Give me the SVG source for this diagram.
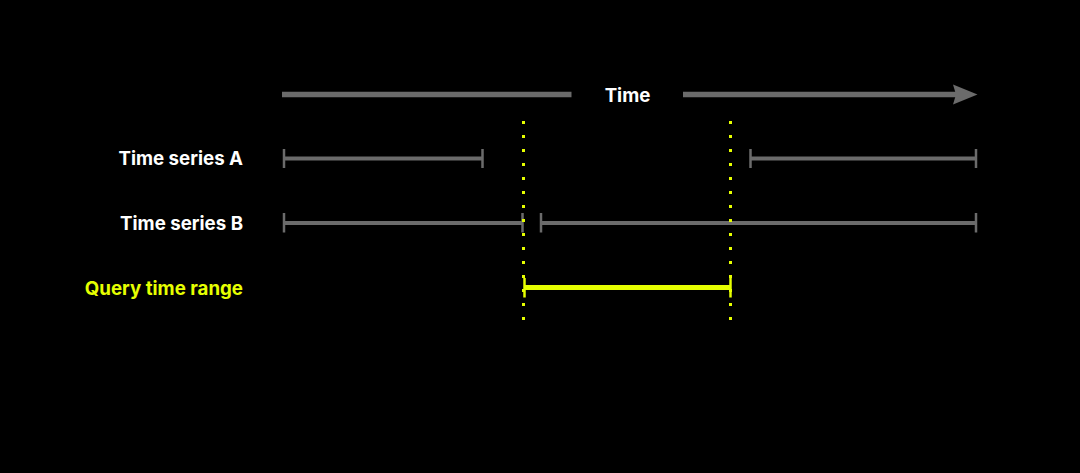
<svg xmlns="http://www.w3.org/2000/svg" width="1080" height="473" viewBox="0 0 1080 473">
<style>
.lbl{font-family:Inter,"Liberation Sans",sans-serif;font-weight:700;font-size:18.7px;fill:#ffffff}
.q{fill:#e6ff00}
.g{stroke:#6b6b6b;fill:none}
.y{stroke:#e6ff00;fill:none}
</style>
<rect width="1080" height="473" fill="#000"/>
<g id="axis">
<line class="g" x1="282" y1="94.5" x2="571.5" y2="94.5" stroke-width="5.3"/>
<line class="g" x1="683" y1="94.5" x2="958" y2="94.5" stroke-width="5.3"/>
<path d="M953 84.5 L977.5 94.5 L953 104.5 L956 94.5 Z" fill="#6b6b6b"/>
<text class="lbl" x="627.5" y="101.5" text-anchor="middle">Time</text>
</g>
<g id="series-a">
<text class="lbl" x="243" y="165" text-anchor="end">Time series A</text>
<line class="g" x1="284" y1="158.5" x2="482" y2="158.5" stroke-width="4"/>
<line class="g" x1="284" y1="149" x2="284" y2="168" stroke-width="2.5"/>
<line class="g" x1="482.5" y1="149" x2="482.5" y2="168" stroke-width="2.5"/>
<line class="g" x1="750.5" y1="158.5" x2="976" y2="158.5" stroke-width="4"/>
<line class="g" x1="750.5" y1="149" x2="750.5" y2="168" stroke-width="2.5"/>
<line class="g" x1="976" y1="149" x2="976" y2="168" stroke-width="2.5"/>
</g>
<g id="series-b">
<text class="lbl" x="243" y="229.5" text-anchor="end">Time series B</text>
<line class="g" x1="284" y1="223" x2="522.5" y2="223" stroke-width="4"/>
<line class="g" x1="284" y1="213" x2="284" y2="232.5" stroke-width="2.5"/>
<line class="g" x1="522.5" y1="213" x2="522.5" y2="232.5" stroke-width="2.5"/>
<line class="g" x1="541" y1="223" x2="976" y2="223" stroke-width="4"/>
<line class="g" x1="541" y1="213" x2="541" y2="232.5" stroke-width="2.5"/>
<line class="g" x1="976" y1="213" x2="976" y2="232.5" stroke-width="2.5"/>
</g>
<g id="query">
<text class="lbl q" x="243" y="295" text-anchor="end">Query time range</text>
<line class="y" x1="524" y1="287.5" x2="730.5" y2="287.5" stroke-width="5"/>
<line class="y" x1="524.5" y1="278" x2="524.5" y2="297.5" stroke-width="2.5"/>
<line class="y" x1="730.5" y1="278" x2="730.5" y2="297.5" stroke-width="2.5"/>
</g>
<g id="connectors">
<line class="y" x1="523.5" y1="121" x2="523.5" y2="324" stroke-width="3" stroke-dasharray="3 11"/>
<line class="y" x1="730.5" y1="121" x2="730.5" y2="324" stroke-width="3" stroke-dasharray="3 11"/>
</g>
</svg>
